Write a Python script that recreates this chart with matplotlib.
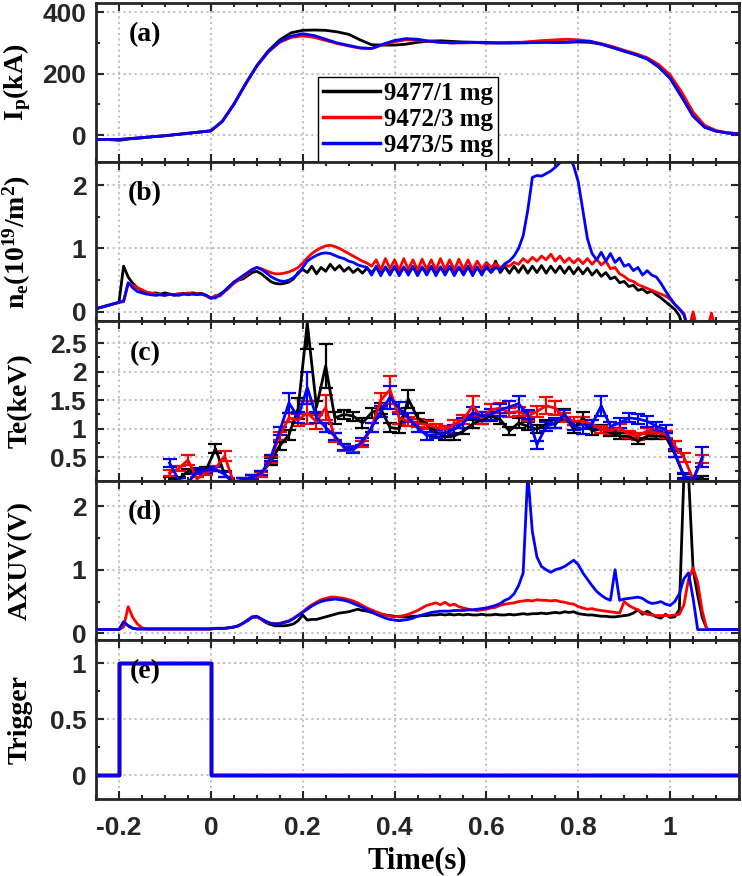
import numpy as np
import matplotlib
matplotlib.use('Agg')
import matplotlib.pyplot as plt
from matplotlib.ticker import MultipleLocator, FormatStrFormatter

# shot labels / colours
shots = ['9477/1 mg', '9472/3 mg', '9473/5 mg']
colors = ['black', 'red', 'blue']

# (a) plasma current, kA, every 0.025 s from -0.25 s
t_ip = np.round(np.arange(-0.25, 1.1501, 0.025), 3)
ip_9477 = [-14, -14, -17, -12, -9, -5, -2, 2, 6, 10,
           14, 45, 100, 165, 226, 274, 310, 333, 341, 342,
           341, 336, 328, 310, 294, 293, 293, 296, 302, 306,
           307, 305, 303, 302, 302, 300, 300, 301, 302, 303,
           303, 303, 303, 302, 296, 285, 273, 262, 248, 222,
           185, 125, 62, 26, 13, 7, 4]
ip_9472 = [-14, -14, -14, -11, -8, -5, -2, 2, 6, 10,
           14, 45, 100, 165, 224, 270, 302, 318, 323, 318,
           308, 298, 290, 283, 282, 294, 304, 310, 309, 305,
           302, 300, 300, 301, 300, 300, 302, 302, 305, 308,
           310, 312, 310, 305, 298, 288, 276, 265, 252, 230,
           196, 140, 75, 32, 15, 8, 4]
ip_9473 = [-14, -14, -14, -11, -8, -5, -2, 2, 6, 10,
           14, 45, 100, 165, 225, 272, 305, 322, 330, 324,
           312, 300, 292, 284, 282, 296, 308, 314, 312, 306,
           302, 300, 302, 302, 300, 300, 300, 300, 301, 302,
           301, 302, 305, 306, 296, 285, 273, 262, 248, 222,
           185, 125, 62, 26, 13, 7, 4]

# (b) line density and (d) AXUV, every 0.01 s from -0.25 s
t_fast = np.round(np.arange(-0.25, 1.1501, 0.01), 2)
ne_9477 = [0.05, 0.07, 0.09, 0.11, 0.13, 0.15, 0.72, 0.55, 0.45, 0.38,
           0.33, 0.31, 0.29, 0.30, 0.28, 0.30, 0.28, 0.26, 0.28, 0.29,
           0.29, 0.30, 0.29, 0.29, 0.26, 0.22, 0.24, 0.28, 0.33, 0.40,
           0.46, 0.50, 0.52, 0.57, 0.62, 0.64, 0.60, 0.54, 0.48, 0.45,
           0.44, 0.45, 0.47, 0.52, 0.62, 0.67, 0.62, 0.72, 0.60, 0.70,
           0.64, 0.75, 0.66, 0.73, 0.64, 0.70, 0.62, 0.68, 0.61, 0.69,
           0.62, 0.70, 0.61, 0.69, 0.62, 0.70, 0.61, 0.69, 0.62, 0.70,
           0.61, 0.69, 0.62, 0.70, 0.61, 0.69, 0.62, 0.70, 0.61, 0.69,
           0.62, 0.70, 0.61, 0.69, 0.62, 0.70, 0.63, 0.80, 0.62, 0.72,
           0.61, 0.72, 0.62, 0.73, 0.61, 0.72, 0.62, 0.73, 0.61, 0.72,
           0.62, 0.72, 0.61, 0.71, 0.60, 0.70, 0.60, 0.69, 0.58, 0.66,
           0.56, 0.62, 0.52, 0.55, 0.46, 0.48, 0.40, 0.42, 0.34, 0.36,
           0.30, 0.33, 0.27, 0.22, 0.16, 0.10, 0.04, -0.06, -0.3, -0.3,
           -0.3, -0.3, -0.3, -0.3, -0.3, -0.3, -0.3, -0.3, -0.3, -0.3,
           -0.3]
ne_9472 = [0.05, 0.07, 0.09, 0.11, 0.13, 0.15, 0.16, 0.44, 0.42, 0.38,
           0.35, 0.31, 0.30, 0.28, 0.27, 0.26, 0.28, 0.27, 0.29, 0.28,
           0.30, 0.28, 0.29, 0.28, 0.25, 0.21, 0.26, 0.25, 0.32, 0.38,
           0.45, 0.50, 0.55, 0.60, 0.66, 0.70, 0.68, 0.65, 0.62, 0.60,
           0.60, 0.61, 0.63, 0.66, 0.70, 0.77, 0.85, 0.92, 0.97, 1.01,
           1.04, 1.05, 1.03, 1.00, 0.96, 0.92, 0.88, 0.84, 0.80, 0.77,
           0.72, 0.82, 0.66, 0.84, 0.68, 0.82, 0.66, 0.84, 0.67, 0.82,
           0.66, 0.83, 0.67, 0.82, 0.66, 0.84, 0.67, 0.82, 0.66, 0.83,
           0.67, 0.82, 0.66, 0.80, 0.68, 0.78, 0.70, 0.76, 0.70, 0.74,
           0.72, 0.78, 0.75, 0.84, 0.78, 0.86, 0.80, 0.88, 0.82, 0.91,
           0.80, 0.88, 0.78, 0.85, 0.77, 0.84, 0.76, 0.84, 0.75, 0.83,
           0.74, 0.80, 0.68, 0.70, 0.60, 0.56, 0.50, 0.48, 0.43, 0.40,
           0.37, 0.34, 0.31, 0.28, 0.25, 0.20, 0.12, 0.04, -0.02, -0.3,
           0.0, -0.3, -0.3, -0.3, -0.02, -0.3, -0.3, -0.3, -0.3, -0.3,
           -0.3]
ne_9473 = [0.05, 0.07, 0.09, 0.11, 0.13, 0.15, 0.17, 0.46, 0.38, 0.32,
           0.30, 0.28, 0.27, 0.26, 0.27, 0.26, 0.28, 0.27, 0.26, 0.28,
           0.27, 0.28, 0.27, 0.28, 0.26, 0.22, 0.22, 0.27, 0.33, 0.40,
           0.47, 0.52, 0.57, 0.62, 0.67, 0.70, 0.67, 0.62, 0.56, 0.52,
           0.49, 0.48, 0.50, 0.54, 0.60, 0.70, 0.80, 0.85, 0.89, 0.92,
           0.93, 0.92, 0.89, 0.86, 0.84, 0.80, 0.78, 0.74, 0.72, 0.70,
           0.58, 0.72, 0.57, 0.71, 0.58, 0.72, 0.57, 0.71, 0.58, 0.72,
           0.57, 0.71, 0.58, 0.72, 0.57, 0.71, 0.58, 0.72, 0.57, 0.71,
           0.58, 0.72, 0.57, 0.71, 0.58, 0.72, 0.62, 0.70, 0.66, 0.76,
           0.80, 0.88, 1.00, 1.20, 1.60, 2.12, 2.15, 2.14, 2.18, 2.22,
           2.28, 2.35, 2.42, 2.45, 2.30, 2.05, 1.60, 1.15, 0.92, 0.82,
           0.94, 0.80, 0.92, 0.78, 0.85, 0.72, 0.75, 0.65, 0.70, 0.58,
           0.65, 0.58, 0.55, 0.45, 0.33, 0.22, 0.12, 0.05, -0.05, -0.3,
           -0.3, -0.3, -0.3, -0.3, -0.3, -0.3, -0.3, -0.3, -0.3, -0.3,
           -0.3]

axuv_9477 = [0.06, 0.06, 0.06, 0.06, 0.06, 0.06, 0.18, 0.12, 0.08, 0.07,
             0.07, 0.07, 0.07, 0.07, 0.07, 0.07, 0.07, 0.07, 0.07, 0.07,
             0.07, 0.07, 0.07, 0.07, 0.07, 0.07, 0.08, 0.08, 0.08, 0.09,
             0.10, 0.12, 0.16, 0.20, 0.25, 0.26, 0.22, 0.17, 0.14, 0.12,
             0.12, 0.12, 0.13, 0.15, 0.20, 0.29, 0.21, 0.22, 0.22, 0.24,
             0.26, 0.28, 0.30, 0.32, 0.33, 0.34, 0.36, 0.38, 0.36, 0.35,
             0.33, 0.31, 0.30, 0.29, 0.28, 0.27, 0.26, 0.26, 0.26, 0.27,
             0.27, 0.28, 0.28, 0.29, 0.29, 0.30, 0.29, 0.30, 0.29, 0.30,
             0.29, 0.30, 0.29, 0.29, 0.30, 0.29, 0.29, 0.30, 0.29, 0.29,
             0.30, 0.29, 0.30, 0.31, 0.30, 0.31, 0.31, 0.32, 0.31, 0.32,
             0.33, 0.32, 0.34, 0.33, 0.34, 0.31, 0.30, 0.29, 0.29, 0.28,
             0.27, 0.27, 0.26, 0.26, 0.27, 0.28, 0.29, 0.32, 0.37, 0.30,
             0.35, 0.30, 0.26, 0.24, 0.30, 0.25, 0.26, 0.37, 2.50, 2.50,
             1.00, 0.60, 0.25, 0.07, 0.06, 0.06, 0.06, 0.06, 0.06, 0.06,
             0.06]
axuv_9472 = [0.06, 0.06, 0.06, 0.06, 0.06, 0.06, 0.10, 0.42, 0.25, 0.15,
             0.09, 0.07, 0.07, 0.07, 0.07, 0.07, 0.07, 0.07, 0.07, 0.07,
             0.07, 0.07, 0.07, 0.07, 0.07, 0.07, 0.08, 0.08, 0.08, 0.09,
             0.10, 0.12, 0.16, 0.21, 0.26, 0.26, 0.22, 0.18, 0.16, 0.15,
             0.16, 0.18, 0.20, 0.24, 0.29, 0.34, 0.40, 0.45, 0.49, 0.53,
             0.55, 0.57, 0.57, 0.56, 0.55, 0.53, 0.51, 0.48, 0.44, 0.40,
             0.37, 0.34, 0.31, 0.29, 0.27, 0.26, 0.27, 0.28, 0.30, 0.33,
             0.36, 0.40, 0.44, 0.46, 0.48, 0.45, 0.49, 0.44, 0.46, 0.42,
             0.40, 0.38, 0.37, 0.36, 0.37, 0.38, 0.40, 0.41, 0.44, 0.46,
             0.47, 0.48, 0.50, 0.51, 0.52, 0.51, 0.53, 0.52, 0.52, 0.51,
             0.52, 0.50, 0.49, 0.47, 0.46, 0.42, 0.40, 0.38, 0.39, 0.37,
             0.36, 0.35, 0.34, 0.33, 0.32, 0.50, 0.44, 0.40, 0.37, 0.33,
             0.30, 0.29, 0.28, 0.28, 0.28, 0.28, 0.29, 0.30, 0.45, 0.85,
             1.03, 0.80, 0.35, 0.06, 0.06, 0.06, 0.06, 0.06, 0.06, 0.06,
             0.06]
axuv_9473 = [0.06, 0.06, 0.06, 0.06, 0.06, 0.06, 0.18, 0.12, 0.08, 0.07,
             0.07, 0.07, 0.07, 0.07, 0.07, 0.07, 0.07, 0.07, 0.07, 0.07,
             0.07, 0.07, 0.07, 0.07, 0.07, 0.07, 0.08, 0.08, 0.08, 0.09,
             0.10, 0.12, 0.16, 0.21, 0.26, 0.27, 0.23, 0.19, 0.16, 0.15,
             0.15, 0.17, 0.19, 0.23, 0.28, 0.33, 0.38, 0.43, 0.47, 0.50,
             0.52, 0.53, 0.54, 0.53, 0.52, 0.50, 0.47, 0.44, 0.41, 0.37,
             0.34, 0.30, 0.27, 0.24, 0.22, 0.21, 0.20, 0.21, 0.22, 0.24,
             0.27, 0.29, 0.31, 0.33, 0.34, 0.35, 0.35, 0.35, 0.36, 0.36,
             0.36, 0.37, 0.37, 0.38, 0.39, 0.40, 0.42, 0.44, 0.47, 0.52,
             0.55, 0.62, 0.75, 0.95, 2.50, 1.60, 1.20, 1.05, 1.00, 0.96,
             1.00, 1.02, 1.05, 1.10, 1.15, 1.08, 0.95, 0.85, 0.75, 0.66,
             0.60, 0.55, 0.52, 1.00, 0.52, 0.54, 0.55, 0.56, 0.57, 0.55,
             0.50, 0.47, 0.48, 0.50, 0.46, 0.44, 0.50, 0.62, 0.86, 0.95,
             0.55, 0.06, 0.06, 0.06, 0.06, 0.06, 0.06, 0.06, 0.06, 0.06,
             0.06]

# (c) electron temperature with error bars, every 0.02 s from -0.09 s
t_te = np.round(np.arange(-0.09, 1.0701, 0.02), 2)
te_9477 = [0.12, 0.12, 0.25, 0.27, 0.28, 0.65, 0.20, 0.05, 0.10, 0.15,
           0.21, 0.42, 0.70, 0.89, 1.35, 2.85, 1.38, 2.10, 1.19, 1.25,
           1.22, 1.10, 1.28, 1.35, 1.02, 1.00, 1.52, 1.19, 1.08, 0.93,
           0.86, 0.87, 0.96, 1.08, 1.16, 1.22, 1.16, 0.96, 1.10, 1.04,
           0.99, 1.08, 1.08, 1.25, 0.99, 1.19, 0.96, 1.00, 0.93, 0.87,
           0.87, 0.78, 0.87, 0.87, 0.87, 0.56, 0.17, 0.08, 0.14]
te_9472 = [0.22, 0.30, 0.45, 0.12, 0.23, 0.30, 0.52, 0.05, 0.10, 0.15,
           0.20, 0.45, 0.88, 1.19, 1.15, 1.28, 1.12, 1.37, 0.84, 0.67,
           0.64, 0.73, 1.02, 1.50, 1.68, 1.19, 1.13, 1.10, 1.07, 1.02,
           0.99, 1.08, 1.16, 1.40, 1.19, 1.33, 1.36, 1.28, 1.30, 1.22,
           1.30, 1.40, 1.36, 1.19, 1.13, 1.13, 1.08, 0.99, 0.96, 1.02,
           0.90, 0.87, 0.96, 0.93, 0.90, 0.70, 0.50, 0.11, 0.46]
te_9473 = [0.40, 0.10, 0.05, 0.25, 0.27, 0.29, 0.20, 0.05, 0.10, 0.15,
           0.22, 0.48, 0.96, 1.45, 1.20, 1.72, 1.20, 1.02, 0.87, 0.68,
           0.63, 0.78, 1.02, 1.30, 1.55, 1.36, 1.19, 1.02, 0.88, 0.90,
           0.93, 0.99, 1.10, 1.28, 1.22, 1.25, 1.33, 1.38, 1.44, 1.25,
           0.72, 1.04, 1.10, 1.25, 1.04, 0.99, 1.08, 1.40, 1.04, 1.10,
           1.19, 1.17, 1.13, 1.04, 0.99, 0.58, 0.17, 0.11, 0.50]
err_9477 = [0.03, 0.03, 0.04, 0.04, 0.04, 0.08, 0.05, 0.03, 0.03, 0.04,
            0.04, 0.06, 0.07, 0.08, 0.18, 0.45, 0.10, 0.38, 0.10, 0.08,
            0.08, 0.08, 0.09, 0.10, 0.08, 0.08, 0.15, 0.08, 0.07, 0.07,
            0.06, 0.06, 0.06, 0.07, 0.08, 0.08, 0.07, 0.07, 0.08, 0.07,
            0.07, 0.07, 0.07, 0.09, 0.07, 0.10, 0.07, 0.07, 0.06, 0.05,
            0.05, 0.05, 0.05, 0.05, 0.05, 0.05, 0.03, 0.03, 0.03]
err_9472 = [0.05, 0.05, 0.08, 0.04, 0.04, 0.04, 0.08, 0.03, 0.03, 0.04,
            0.04, 0.05, 0.07, 0.08, 0.10, 0.20, 0.12, 0.22, 0.08, 0.06,
            0.05, 0.06, 0.08, 0.12, 0.25, 0.10, 0.08, 0.07, 0.07, 0.07,
            0.06, 0.07, 0.08, 0.17, 0.10, 0.10, 0.09, 0.08, 0.08, 0.08,
            0.09, 0.15, 0.12, 0.08, 0.07, 0.07, 0.07, 0.06, 0.06, 0.06,
            0.06, 0.06, 0.06, 0.06, 0.06, 0.08, 0.08, 0.05, 0.07]
err_9473 = [0.07, 0.04, 0.03, 0.04, 0.04, 0.04, 0.04, 0.03, 0.03, 0.04,
            0.04, 0.05, 0.07, 0.17, 0.10, 0.28, 0.10, 0.08, 0.06, 0.05,
            0.05, 0.06, 0.08, 0.10, 0.20, 0.10, 0.08, 0.07, 0.07, 0.07,
            0.07, 0.08, 0.08, 0.10, 0.08, 0.09, 0.10, 0.10, 0.14, 0.08,
            0.07, 0.08, 0.08, 0.08, 0.07, 0.08, 0.08, 0.17, 0.08, 0.08,
            0.08, 0.09, 0.10, 0.08, 0.07, 0.07, 0.05, 0.05, 0.18]

# (e) trigger signal (same for all shots)
t_trig = [-0.25, -0.2, -0.2, 0.0, 0.0, 1.15]
trig = [0, 0, 1, 1, 0, 0]

ip = [ip_9477, ip_9472, ip_9473]
ne = [ne_9477, ne_9472, ne_9473]
te = [te_9477, te_9472, te_9473]
te_err = [err_9477, err_9472, err_9473]
axuv = [axuv_9477, axuv_9472, axuv_9473]

# style
plt.rcParams['font.family'] = 'Liberation Sans'
plt.rcParams['font.weight'] = 'bold'
plt.rcParams['mathtext.fontset'] = 'custom'
plt.rcParams['mathtext.rm'] = 'Liberation Serif:bold'
plt.rcParams['mathtext.it'] = 'Liberation Serif:bold'
plt.rcParams['mathtext.bf'] = 'Liberation Serif:bold'
serif = {'family': 'Liberation Serif', 'weight': 'bold'}
frame_col = '#262626'

fig, axes = plt.subplots(5, 1, sharex=True, figsize=(7.42, 8.76), dpi=100)
fig.subplots_adjust(left=0.1294, right=0.996, top=0.9966, bottom=0.0879, hspace=0)
ax_a, ax_b, ax_c, ax_d, ax_e = axes

lw = 2.0
for k in range(3):
    ax_a.plot(t_ip, ip[k], color=colors[k], lw=lw, label=shots[k])
    ax_b.plot(t_fast, ne[k], color=colors[k], lw=lw)
    ax_c.errorbar(t_te, te[k], yerr=te_err[k], color=colors[k], lw=lw,
                  elinewidth=1.6, capsize=5, capthick=1.6)
    ax_d.plot(t_fast, axuv[k], color=colors[k], lw=lw)
    ax_e.plot(t_trig, trig, color=colors[k], lw=2.5)

# axis ranges and ticks
ax_a.set_ylim(-88, 430)
ax_a.yaxis.set_major_locator(MultipleLocator(200))
ax_a.yaxis.set_minor_locator(MultipleLocator(100))
ax_b.set_ylim(-0.15, 2.36)
ax_b.yaxis.set_major_locator(MultipleLocator(1))
ax_b.yaxis.set_minor_locator(MultipleLocator(0.5))
ax_c.set_ylim(0.09, 2.88)
ax_c.set_yticks([0.5, 1, 1.5, 2, 2.5])
ax_c.yaxis.set_minor_locator(MultipleLocator(0.25))
ax_d.set_ylim(-0.1, 2.4)
ax_d.yaxis.set_major_locator(MultipleLocator(1))
ax_d.yaxis.set_minor_locator(MultipleLocator(0.5))
ax_e.set_ylim(-0.21, 1.21)
ax_e.set_yticks([0, 0.5, 1])
ax_e.yaxis.set_minor_locator(MultipleLocator(0.25))

ax_e.set_xlim(-0.25, 1.15)
ax_e.set_xticks([-0.2, 0, 0.2, 0.4, 0.6, 0.8, 1])
ax_e.xaxis.set_minor_locator(MultipleLocator(0.05))
ax_e.xaxis.set_major_formatter(FormatStrFormatter('%g'))
for ax in axes:
    ax.yaxis.set_major_formatter(FormatStrFormatter('%g'))

ylabels = [r'I$_p$(kA)', r'n$_e$(10$^{19}$/m$^2$)', 'Te(keV)', 'AXUV(V)', 'Trigger']
panel_tags = ['(a)', '(b)', '(c)', '(d)', '(e)']
for ax, lab, tag in zip(axes, ylabels, panel_tags):
    ax.set_ylabel(lab, fontsize=20, labelpad=7, **serif)
    ax.text(0.076, 0.80, tag, transform=ax.transAxes, ha='center', va='center',
            fontsize=20, **serif)
    ax.grid(True, linestyle=':', color='#c0c0c0', linewidth=1.5)
    ax.set_axisbelow(True)
    ax.tick_params(which='both', direction='in', top=True, right=True,
                   labelsize=19, colors=frame_col, labelcolor=frame_col, width=1.5)
    ax.tick_params(axis='y', which='major', length=6, pad=7)
    ax.tick_params(axis='x', which='major', length=6, pad=12)
    ax.tick_params(which='minor', length=3)
    for sp in ax.spines.values():
        sp.set_linewidth(2.0)
        sp.set_color(frame_col)

ax_e.set_xlabel('Time(s)', fontsize=22, labelpad=5, **serif)

leg = ax_a.legend(loc='lower left', bbox_to_anchor=(0.345, 0.0), borderaxespad=0,
                  prop={'family': 'Liberation Serif', 'weight': 'bold', 'size': 18},
                  fancybox=False, framealpha=1, edgecolor='black',
                  borderpad=0.2, labelspacing=0.12, handlelength=2.3, handletextpad=0.15)
leg.get_frame().set_linewidth(1.0)
for line in leg.get_lines():
    line.set_linewidth(2.5)

fig.align_ylabels(axes)
fig.savefig('out.png', dpi=100)
